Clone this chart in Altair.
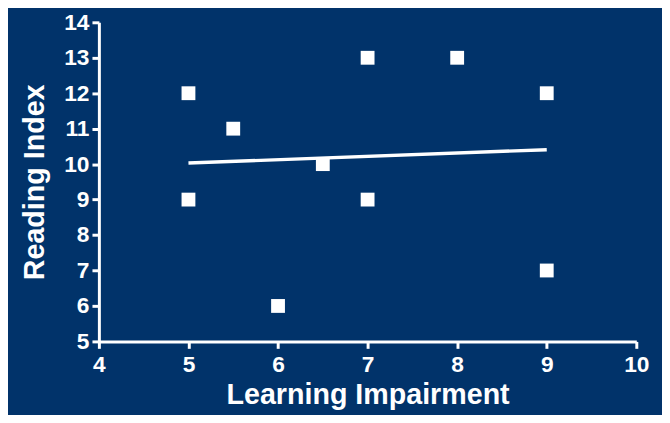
import altair as alt
import pandas as pd

impairment = [5, 5, 5.5, 6, 6.5, 7, 7, 8, 9, 9]
reading = [12, 9, 11, 6, 10, 13, 9, 13, 12, 7]
x_ticks = [4, 5, 6, 7, 8, 9, 10]
y_ticks = [5, 6, 7, 8, 9, 10, 11, 12, 13, 14]

df = pd.DataFrame({"x": impairment, "y": reading})

BG = "#01336a"

xscale = alt.Scale(domain=[4, 10], nice=False, zero=False)
yscale = alt.Scale(domain=[5, 14], nice=False, zero=False)

xaxis = alt.Axis(title="Learning Impairment", values=x_ticks, grid=False, format="d",
                 labelOverlap=False, labelFlush=False, labelBound=False,
                 titleFontSize=29, titlePadding=5, labelPadding=5)
yaxis = alt.Axis(title="Reading Index", values=y_ticks, grid=False, format="d",
                 labelOverlap=False, labelFlush=False, labelBound=False,
                 titleFontSize=29, titlePadding=14, labelPadding=3)

points = alt.Chart(df).mark_square(size=196, color="white", opacity=1).encode(
    x=alt.X("x:Q", scale=xscale, axis=xaxis),
    y=alt.Y("y:Q", scale=yscale, axis=yaxis),
)

line = alt.Chart(df).transform_regression("x", "y").mark_line(color="white", strokeWidth=3.5).encode(
    x=alt.X("x:Q", scale=xscale, axis=xaxis),
    y=alt.Y("y:Q", scale=yscale, axis=yaxis),
)

chart = (line + points).properties(
    width=544, height=323,
    autosize=alt.AutoSizeParams(type="none"),
    padding={"left": 92, "top": 12, "right": 26, "bottom": 72},
    background=BG,
).configure_view(stroke=None).configure_axis(
    domainColor="white", domainWidth=3, tickColor="white", tickWidth=3, tickSize=7,
    labelColor="white", titleColor="white", labelFont="Liberation Sans", titleFont="Liberation Sans",
    labelFontSize=23, labelFontWeight="bold", titleFontWeight="bold",
)

chart.save("out.html", embed_options={"renderer": "svg", "actions": False})
